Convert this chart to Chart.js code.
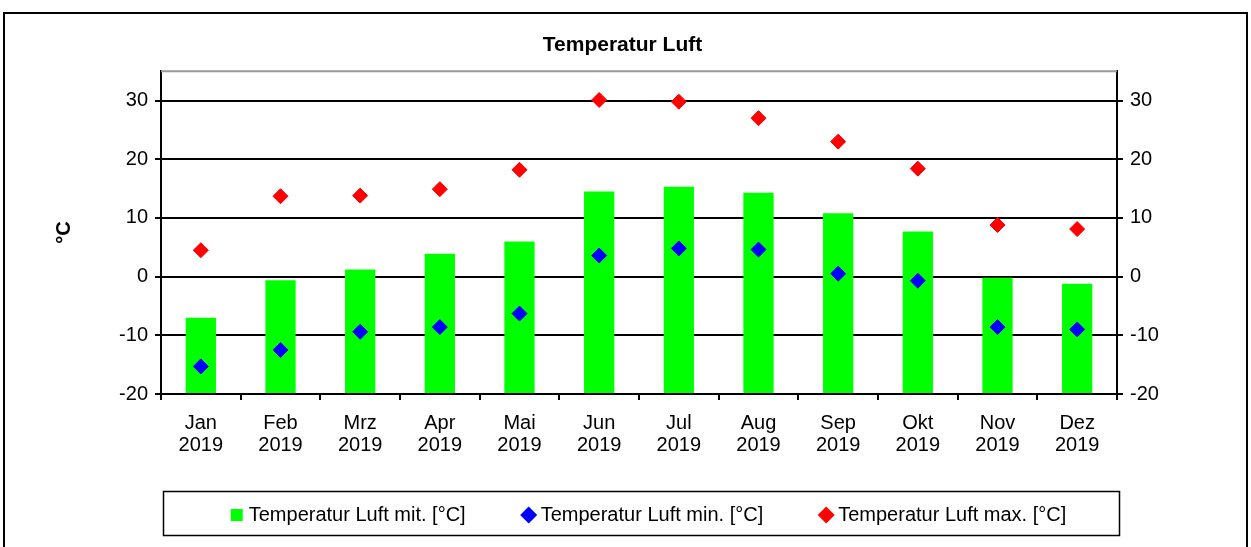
<!DOCTYPE html>
<html>
<head>
<meta charset="utf-8">
<title>Temperatur Luft</title>
<script src="https://cdn.jsdelivr.net/npm/chart.js@4.4.1/dist/chart.umd.min.js"></script>
<style>
  html, body { margin: 0; padding: 0; background: #fff; }
  #wrap { width: 1251px; height: 547px; }
</style>
</head>
<body>
<div id="wrap"><canvas id="chart" width="1251" height="547"></canvas></div>
<script>
// Data
const months = ['Jan', 'Feb', 'Mrz', 'Apr', 'Mai', 'Jun', 'Jul', 'Aug', 'Sep', 'Okt', 'Nov', 'Dez'];
const year = '2019';
const tempMit = [-7.0, -0.6, 1.2, 3.9, 6.0, 14.5, 15.3, 14.3, 10.8, 7.7, -0.2, -1.2];
const tempMin = [-15.3, -12.5, -9.4, -8.6, -6.3, 3.6, 4.8, 4.6, 0.5, -0.7, -8.6, -9.0];
const tempMax = [4.5, 13.7, 13.8, 14.9, 18.2, 30.1, 29.8, 27.0, 23.0, 18.4, 8.8, 8.1];
const yTicks = [-20, -10, 0, 10, 20, 30];
const yMin = -20;
const yMax = 35;

const FONT = "'Liberation Sans', Arial, sans-serif";

// outer frame, plot top border and legend box
const framePlugin = {
  id: 'frames',
  afterLayout(chart) {
    // legend sits a bit right of centre and slightly higher in the original
    chart.legend.left += 28;
    chart.legend.right += 28;
    chart.legend.top -= 10;
    chart.legend.bottom -= 10;
  },
  beforeDraw(chart) {
    const ctx = chart.ctx;
    ctx.save();
    ctx.fillStyle = '#fff';
    ctx.fillRect(0, 0, chart.width, chart.height);
    ctx.strokeStyle = '#000';
    ctx.lineWidth = 2;
    ctx.strokeRect(4, 13, chart.width - 8, chart.height + 20);
    ctx.restore();
  },
  beforeDatasetsDraw(chart) {
    const ctx = chart.ctx;
    const a = chart.chartArea;
    ctx.save();
    ctx.strokeStyle = '#999';
    ctx.lineWidth = 2;
    ctx.beginPath();
    ctx.moveTo(a.left, a.top);
    ctx.lineTo(a.right, a.top);
    ctx.stroke();
    ctx.restore();
  },
  afterDraw(chart) {
    const ctx = chart.ctx;
    const a = chart.chartArea;
    ctx.save();
    ctx.strokeStyle = '#000';
    ctx.lineWidth = 1.5;
    ctx.strokeRect(a.left + 2.5, 491.5, a.right - a.left, 44);
    ctx.restore();
  }
};

const ctx = document.getElementById('chart');

new Chart(ctx, {
  type: 'bar',
  data: {
    labels: months.map(m => [m, year]),
    datasets: [
      {
        type: 'bar',
        label: 'Temperatur Luft mit. [°C]',
        data: tempMit,
        base: yMin,
        backgroundColor: '#00ff00',
        borderWidth: 0,
        barPercentage: 0.38,
        categoryPercentage: 1.0,
        order: 2,
        yAxisID: 'y'
      },
      {
        type: 'line',
        label: 'Temperatur Luft min. [°C]',
        data: tempMin,
        showLine: false,
        pointStyle: 'rectRot',
        pointRadius: 7.5,
        backgroundColor: '#0000ff',
        borderColor: '#0000ff',
        borderWidth: 1,
        order: 1,
        yAxisID: 'y'
      },
      {
        type: 'line',
        label: 'Temperatur Luft max. [°C]',
        data: tempMax,
        showLine: false,
        pointStyle: 'rectRot',
        pointRadius: 7.5,
        backgroundColor: '#ff0000',
        borderColor: '#ff0000',
        borderWidth: 1,
        order: 1,
        yAxisID: 'y'
      }
    ]
  },
  options: {
    responsive: false,
    animation: false,
    layout: {
      padding: { left: 48, right: 54, top: 0, bottom: 2 }
    },
    scales: {
      x: {
        offset: true,
        afterFit: s => { s.height = 60; },
        grid: {
          offset: true,
          drawOnChartArea: false,
          drawTicks: true,
          tickLength: 6,
          color: '#000',
          lineWidth: 2
        },
        border: { display: true, color: '#000', width: 2 },
        ticks: {
          color: '#000',
          padding: 12,
          maxRotation: 0,
          autoSkip: false,
          font: { family: FONT, size: 20, lineHeight: 1.1 }
        }
      },
      y: {
        position: 'left',
        min: yMin,
        max: yMax,
        afterFit: s => { s.width = 113; },
        afterBuildTicks: s => { s.ticks = yTicks.map(v => ({ value: v })); },
        grid: {
          color: '#000',
          lineWidth: 2,
          drawTicks: true,
          tickLength: 6
        },
        border: { display: true, color: '#000', width: 2 },
        ticks: {
          color: '#000',
          padding: 7,
          font: { family: FONT, size: 20 }
        },
        title: {
          display: true,
          text: '°C',
          color: '#000',
          padding: { top: 4, bottom: 4 },
          font: { family: FONT, size: 20, weight: 'bold' }
        }
      },
      y2: {
        position: 'right',
        min: yMin,
        max: yMax,
        afterFit: s => { s.width = 80; },
        afterBuildTicks: s => { s.ticks = yTicks.map(v => ({ value: v })); },
        grid: {
          drawOnChartArea: false,
          drawTicks: true,
          tickLength: 6,
          color: '#000',
          lineWidth: 2
        },
        border: { display: true, color: '#000', width: 2 },
        ticks: {
          color: '#000',
          padding: 7,
          font: { family: FONT, size: 20 }
        }
      }
    },
    plugins: {
      title: {
        display: true,
        text: 'Temperatur Luft',
        color: '#000',
        padding: { top: 33, bottom: 13 },
        font: { family: FONT, size: 21, weight: 'bold' }
      },
      legend: {
        position: 'bottom',
        labels: {
          color: '#000',
          usePointStyle: true,
          boxWidth: 4,
          boxHeight: 12,
          padding: 61,
          font: { family: FONT, size: 20 },
          generateLabels(chart) {
            const items = Chart.defaults.plugins.legend.labels.generateLabels(chart);
            items.forEach(it => {
              it.pointStyle = it.datasetIndex === 0 ? 'rect' : 'rectRot';
              it.lineWidth = 0;
            });
            return items.sort((a, b) => a.datasetIndex - b.datasetIndex);
          }
        }
      },
      tooltip: { enabled: false }
    }
  },
  plugins: [framePlugin]
});
</script>
</body>
</html>
